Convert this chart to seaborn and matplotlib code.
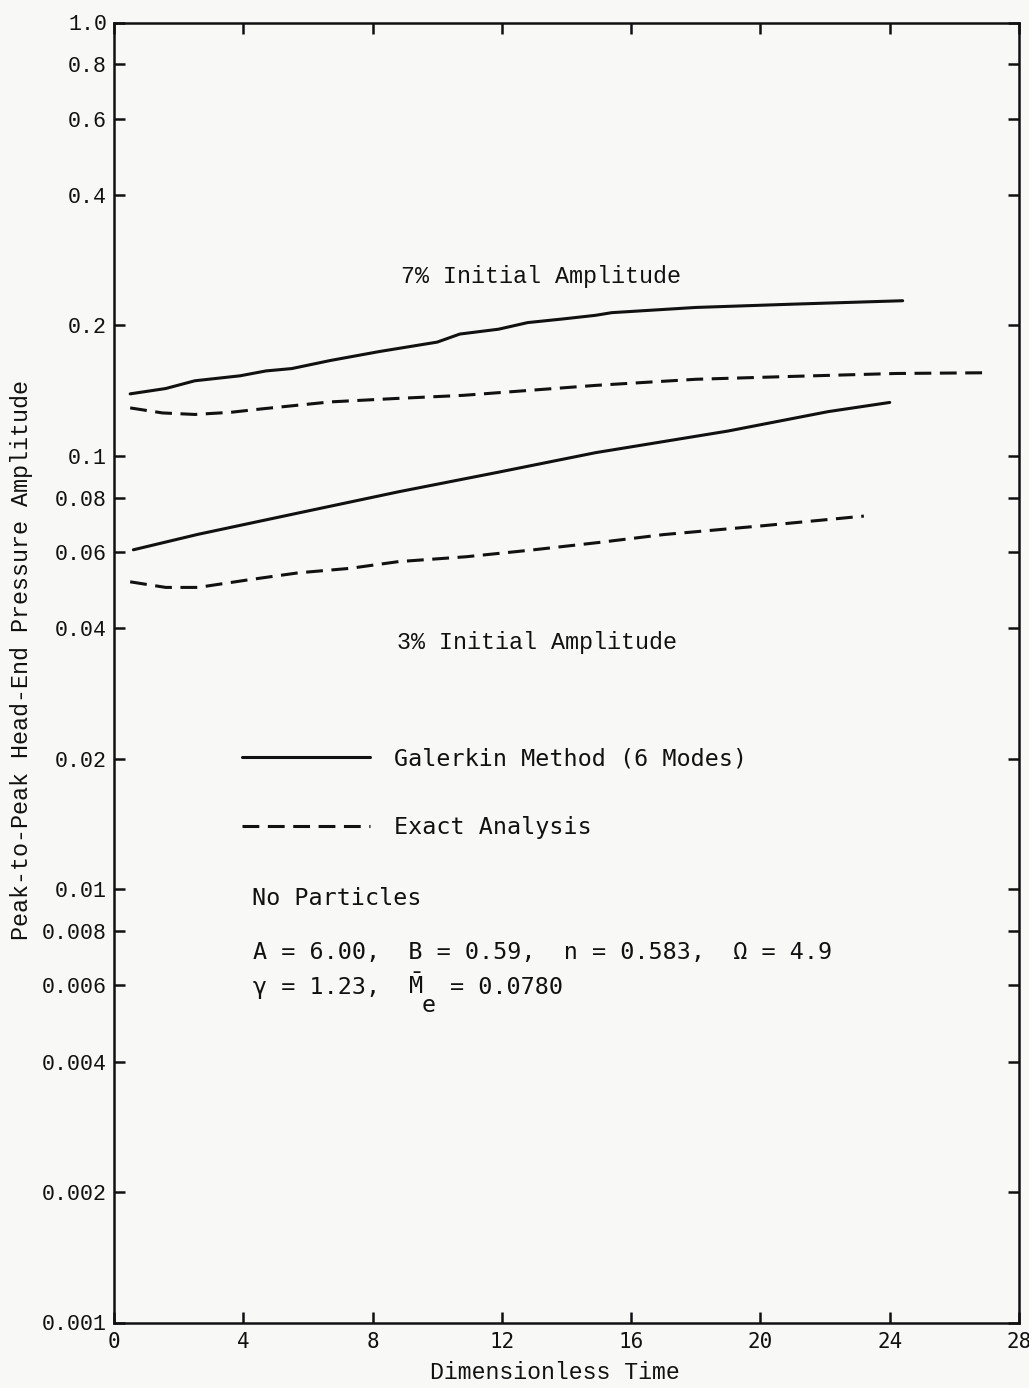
import matplotlib
matplotlib.use("Agg")
import matplotlib.pyplot as plt
from matplotlib.transforms import offset_copy
from matplotlib.ticker import FixedLocator, FixedFormatter, NullLocator
import seaborn as sns
import pandas as pd

# --- data -------------------------------------------------------------
# 7 % initial amplitude, Galerkin method (6 modes)
t_galerkin_7 = [0.5, 1.6, 2.5, 3.9, 4.7, 5.5, 6.7, 8.2, 10.0, 10.7, 11.9,
                12.8, 13.9, 14.9, 15.4, 18.0, 21.1, 24.4]
p_galerkin_7 = [0.139, 0.143, 0.149, 0.153, 0.157, 0.159, 0.166, 0.174, 0.183,
                0.191, 0.196, 0.203, 0.207, 0.211, 0.214, 0.220, 0.224, 0.228]

# 7 % initial amplitude, exact analysis
t_exact_7 = [0.5, 1.5, 2.5, 3.6, 4.6, 6.7, 8.7, 10.8, 12.9, 14.9, 18.0,
             21.1, 24.2, 27.0]
p_exact_7 = [0.129, 0.1256, 0.1246, 0.126, 0.1284, 0.1332, 0.1356, 0.1379,
             0.1417, 0.1454, 0.1502, 0.1526, 0.1549, 0.1555]

# 3 % initial amplitude, Galerkin method (6 modes)
t_galerkin_3 = [0.6, 2.6, 5.7, 8.8, 11.9, 14.9, 19.0, 22.1, 24.0]
p_galerkin_3 = [0.0607, 0.0659, 0.0738, 0.0826, 0.0917, 0.1017, 0.1141,
                0.1265, 0.1328]

# 3 % initial amplitude, exact analysis
t_exact_3 = [0.5, 1.6, 2.6, 4.2, 5.7, 7.3, 8.8, 10.9, 12.9, 15.0, 17.0,
             20.1, 23.2]
p_exact_3 = [0.0512, 0.0497, 0.0497, 0.0518, 0.0537, 0.055, 0.057, 0.0585,
             0.0606, 0.0631, 0.0658, 0.069, 0.0726]

x_ticks = [0, 4, 8, 12, 16, 20, 24, 28]
x_tick_labels = ["0", "4", "8", "12", "16", "20", "24", "28"]
y_ticks = [1.0, 0.8, 0.6, 0.4, 0.2, 0.1, 0.08, 0.06, 0.04, 0.02, 0.01,
           0.008, 0.006, 0.004, 0.002, 0.001]
y_tick_labels = ["1.0", "0.8", "0.6", "0.4", "0.2", "0.1", "0.08", "0.06",
                 "0.04", "0.02", "0.01", "0.008", "0.006", "0.004", "0.002",
                 "0.001"]

legend_labels = ["Galerkin Method (6 Modes)", "Exact Analysis"]

# --- style ------------------------------------------------------------
sns.set_style("ticks")
plt.rcParams["font.family"] = ["DejaVu Sans Mono", "DejaVu Sans"]
plt.rcParams["mathtext.fontset"] = "custom"
plt.rcParams["mathtext.rm"] = "DejaVu Sans Mono"
plt.rcParams["mathtext.it"] = "DejaVu Sans Mono"

INK = "#111111"
PAPER = "#f8f8f6"
SERIF_MONO = ["Liberation Mono", "DejaVu Sans Mono"]
SANS_MONO = ["DejaVu Sans Mono", "DejaVu Sans"]
LW = 2.2
DASH = (0, (5.5, 2.8))
FS = 16.8

fig = plt.figure(figsize=(10.29, 13.88), dpi=100, facecolor=PAPER)
ax = fig.add_axes([114 / 1029, 1 - 1322.5 / 1388, 905 / 1029, 1300 / 1388])
ax.set_facecolor(PAPER)

curves = [
    (t_galerkin_7, p_galerkin_7, "-", legend_labels[0]),
    (t_exact_7, p_exact_7, DASH, legend_labels[1]),
    (t_galerkin_3, p_galerkin_3, "-", None),
    (t_exact_3, p_exact_3, DASH, None),
]
for t, p, ls, lab in curves:
    df = pd.DataFrame({"t": t, "p": p})
    sns.lineplot(data=df, x="t", y="p", ax=ax, color=INK, linewidth=LW,
                 linestyle=ls, label=lab, sort=False, estimator=None,
                 legend=False)

# --- axes -------------------------------------------------------------
ax.set_yscale("log")
ax.set_xlim(0, 28)
ax.set_ylim(0.001, 1.0)
ax.xaxis.set_major_locator(FixedLocator(x_ticks))
ax.xaxis.set_major_formatter(FixedFormatter(x_tick_labels))
ax.yaxis.set_major_locator(FixedLocator(y_ticks))
ax.yaxis.set_major_formatter(FixedFormatter(y_tick_labels))
ax.yaxis.set_minor_locator(NullLocator())
ax.xaxis.set_minor_locator(NullLocator())

for s in ax.spines.values():
    s.set_visible(True)
    s.set_linewidth(1.8)
    s.set_color(INK)

ax.tick_params(axis="both", which="major", direction="in", length=8,
               width=1.8, color=INK, top=True, right=True)
ax.tick_params(axis="y", pad=5, labelsize=15.6, labelcolor=INK)
ax.tick_params(axis="x", pad=7, labelsize=15, labelcolor=INK)
for lbl in ax.get_yticklabels():
    lbl.set_family(SERIF_MONO)
for lbl in ax.get_xticklabels():
    lbl.set_family(SANS_MONO)

ax.set_xlabel("Dimensionless Time", fontsize=16.7, family=SERIF_MONO,
              color=INK)
ax.xaxis.label.set_va("center")
ax.xaxis.set_label_coords(0.487, -0.0385)
ax.set_ylabel("Peak-to-Peak Head-End Pressure Amplitude", fontsize=FS,
              family=SERIF_MONO, color=INK)
ax.yaxis.label.set_va("center")
ax.yaxis.set_label_coords(-0.1017, 0.5096)

# --- annotations ------------------------------------------------------
ax.text(0.4714, 0.8048, "7% Initial Amplitude", transform=ax.transAxes,
        ha="center", va="center", fontsize=FS, family=SERIF_MONO, color=INK)
ax.text(0.4670, 0.5232, "3% Initial Amplitude", transform=ax.transAxes,
        ha="center", va="center", fontsize=FS, family=SERIF_MONO, color=INK)

handles = ax.get_lines()[:2]
leg = ax.legend(handles, legend_labels, loc="center left",
                bbox_to_anchor=(0.1414, 0.4073), frameon=False,
                borderpad=0, borderaxespad=0, handlelength=5.5,
                handletextpad=1.0, labelspacing=1.95,
                prop={"family": SANS_MONO, "size": FS})
for txt in leg.get_texts():
    txt.set_color(INK)

ax.text(0.1525, 0.3265, "No Particles", transform=ax.transAxes,
        ha="left", va="center", fontsize=FS, family=SANS_MONO, color=INK)
ax.text(0.1536, 0.2850, "A = 6.00,  B = 0.59,  n = 0.583,  \u03a9 = 4.9",
        transform=ax.transAxes, ha="left", va="center", fontsize=FS,
        family=SANS_MONO, color=INK)

# second parameter line, laid out on the monospace character grid:
# gamma, then the mean exit Mach number M-bar with a full-size subscript e
char_pt = 0.602 * FS
line_x, line_y = 0.1541, 0.2530
pieces = [
    (0, 0, "\u03b3 = 1.23,"),
    (11, 0, r"$\bar{\mathrm{M}}$"),
    (12, -13, "e"),
    (14, 0, "= 0.0780"),
]
for col, dy, s in pieces:
    tr = offset_copy(ax.transAxes, fig=fig, x=col * char_pt, y=dy,
                     units="points")
    ax.text(line_x, line_y, s, transform=tr, ha="left", va="baseline",
            fontsize=FS, family=SANS_MONO, color=INK)

fig.savefig("out.png", dpi=100, facecolor=PAPER)
